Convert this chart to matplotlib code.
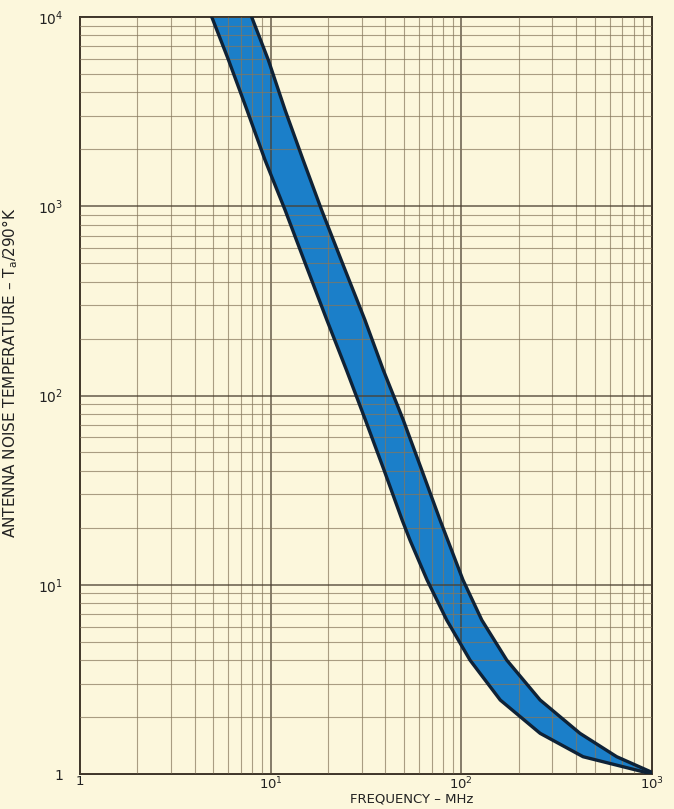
import matplotlib.pyplot as plt
from matplotlib.ticker import FixedLocator, LogLocator, NullFormatter

# band boundaries (frequency MHz, T_a/290K)
freq_low = [4.91, 6.01, 7.51, 9.34, 11.9, 15.3, 19.7, 25.0, 31.4, 39.3, 48.9, 53.8, 66.1,
            83.8, 111, 160, 259, 435, 1000]
temp_low = [10000, 5929, 3226, 1755, 955, 489, 251, 136, 74.2, 40.4, 22.0, 17.2, 10.6,
            6.51, 4.00, 2.46, 1.64, 1.234, 1.0]
freq_high = [7.95, 9.72, 11.9, 14.8, 18.5, 24.0, 31.2, 39.0, 49.6, 62.0, 77.3, 102,
             128, 173, 259, 419, 653, 1000]
temp_high = [10000, 5929, 3226, 1755, 955, 489, 251, 136, 74.2, 40.4, 22.0, 10.6,
             6.51, 4.00, 2.46, 1.64, 1.234, 1.02]

xticks = [1, 10, 100, 1000]
xlabels = ['1', '$\\mathregular{10^1}$', '$\\mathregular{10^2}$', '$\\mathregular{10^3}$']
yticks = [1, 10, 100, 1000, 10000]
ylabels = ['1', '$\\mathregular{10^1}$', '$\\mathregular{10^2}$', '$\\mathregular{10^3}$', '$\\mathregular{10^4}$']

paper = '#fcf7dc'
gridc = '#86775c'
blue = '#1b7fc9'
edge = '#0f2236'

fig = plt.figure(figsize=(6.74, 8.09), dpi=100, facecolor=paper)
ax = fig.add_axes([80/674, 1-774/809, 572/674, 757/809])
ax.set_facecolor(paper)
ax.set_xscale('log')
ax.set_yscale('log')
ax.set_xlim(1, 1000)
ax.set_ylim(1, 10000)

# polygon of the band: lower curve out, upper curve back
px = freq_low + freq_high[::-1]
py = temp_low + temp_high[::-1]
ax.fill(px, py, color=blue, zorder=1, lw=0)
ax.plot(freq_low, temp_low, color=edge, lw=2.4, zorder=3, solid_joinstyle='round')
ax.plot(freq_high, temp_high, color=edge, lw=2.4, zorder=3, solid_joinstyle='round')

ax.xaxis.set_major_locator(FixedLocator(xticks))
ax.yaxis.set_major_locator(FixedLocator(yticks))
ax.set_xticklabels(xlabels)
ax.set_yticklabels(ylabels)
ax.xaxis.set_minor_locator(LogLocator(base=10, subs=range(2, 10)))
ax.yaxis.set_minor_locator(LogLocator(base=10, subs=range(2, 10)))
ax.xaxis.set_minor_formatter(NullFormatter())
ax.yaxis.set_minor_formatter(NullFormatter())
ax.tick_params(which='both', length=0, labelsize=10, colors='#222222')
ax.tick_params(axis='x', pad=1, labelsize=9.5)
ax.tick_params(axis='y', pad=12)

ax.grid(which='major', color='#4a3f30', lw=1.1, alpha=0.85, zorder=2)
ax.grid(which='minor', color=gridc, lw=0.8, alpha=0.7, zorder=2)
ax.set_axisbelow(False)
for s in ax.spines.values():
    s.set_color('#3a3228')
    s.set_linewidth(1.4)

ax.set_xlabel('FREQUENCY – MHz', fontsize=9.5, color='#222222')
ax.xaxis.set_label_coords(0.58, -0.025)
ax.set_ylabel('ANTENNA NOISE TEMPERATURE – $\\mathregular{T_a}$/290°K', fontsize=11,
              color='#222222')
ax.yaxis.set_label_coords(-0.105, 0.53)

fig.savefig('out.png', dpi=100, facecolor=paper)
